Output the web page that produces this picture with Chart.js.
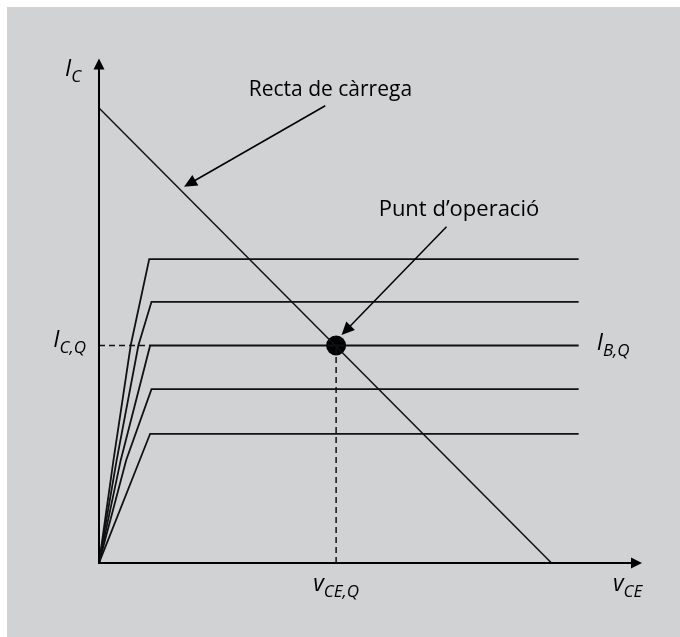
<!DOCTYPE html>
<html>
<head>
<meta charset="utf-8">
<script src="https://cdn.jsdelivr.net/npm/chart.js@4.4.1/dist/chart.umd.min.js"></script>
<style>
  html, body { margin: 0; padding: 0; background: #ffffff; }
  #wrap { width: 680px; height: 637px; position: relative; }
</style>
</head>
<body>
<div id="wrap"><canvas id="bjtChart"></canvas></div>
<script>
// Eixos (V, mA)
const vceMax = 12;
const icMax = 11;

// Recta de càrrega: talls amb els eixos
const loadLineX = [0, 10];
const loadLineY = [10, 0];

// Corbes de sortida (IB constant): colze i nivell
const curveLevels = [6.68, 5.74, 4.78, 3.82, 2.84];
const curveKneeX = [1.11, 1.16, 1.13, 1.16, 1.13];
const curveEndX = 10.6;
// punts intermedis de la zona de saturació (x, y)
const curveBendX = [[0.32, 0.70], [0.39, 0.87], [0.48], [0.60], []];
const curveBendY = [[2.26, 4.78], [2.26, 4.78], [2.26], [2.26], []];

// Punt d'operació
const qPoint = { x: 5.24, y: 4.78 };
const qLevelIndex = 2;

// Etiquetes de text
const labelLoad = 'Recta de càrrega';
const labelQ = 'Punt d’operació';
const arrowLoad = { from: [5.0, 10.05], to: [1.88, 8.27], text: [3.31, 10.26] };
const arrowQ = { from: [7.68, 7.39], to: [5.36, 5.01], text: [6.18, 7.63] };

const FONT = '"Open Sans", "DejaVu Sans", sans-serif';

function curveData(i) {
    const pts = [{ x: 0, y: 0 }];
    curveBendX[i].forEach((x, k) => pts.push({ x: x, y: curveBendY[i][k] }));
    pts.push({ x: curveKneeX[i], y: curveLevels[i] });
    pts.push({ x: curveEndX, y: curveLevels[i] });
    return pts;
}

const datasets = [];
curveLevels.forEach((lv, i) => {
    datasets.push({
        data: curveData(i),
        showLine: true,
        borderColor: '#111111',
        borderWidth: 1.8,
        pointRadius: 0
    });
});
datasets.push({
    data: loadLineX.map((x, i) => ({ x: x, y: loadLineY[i] })),
    showLine: true,
    borderColor: '#111111',
    borderWidth: 1.5,
    pointRadius: 0
});
// línies discontínues fins als eixos
datasets.push({
    data: [{ x: 0, y: qPoint.y }, { x: curveKneeX[qLevelIndex], y: qPoint.y }],
    showLine: true,
    borderColor: '#111111',
    borderWidth: 1.5,
    borderDash: [6, 4],
    pointRadius: 0
});
datasets.push({
    data: [{ x: qPoint.x, y: 0 }, { x: qPoint.x, y: qPoint.y }],
    showLine: true,
    borderColor: '#111111',
    borderWidth: 1.5,
    borderDash: [6, 4],
    pointRadius: 0
});
datasets.push({
    data: [qPoint],
    showLine: false,
    pointRadius: 10,
    pointBackgroundColor: '#000000',
    pointBorderWidth: 0
});

function arrowHead(ctx, x1, y1, x2, y2, len, half) {
    const a = Math.atan2(y2 - y1, x2 - x1);
    ctx.beginPath();
    ctx.moveTo(x2, y2);
    ctx.lineTo(x2 - len * Math.cos(a) + half * Math.sin(a), y2 - len * Math.sin(a) - half * Math.cos(a));
    ctx.lineTo(x2 - len * Math.cos(a) - half * Math.sin(a), y2 - len * Math.sin(a) + half * Math.cos(a));
    ctx.closePath();
    ctx.fill();
}

// text principal + subíndex, en cursiva
function subText(ctx, main, sub, x, y, align) {
    const fMain = 'italic 23px ' + FONT;
    const fSub = 'italic 17px ' + FONT;
    ctx.font = fMain;
    const wMain = ctx.measureText(main).width;
    ctx.font = fSub;
    const wSub = ctx.measureText(sub).width;
    let x0 = x;
    if (align === 'right') x0 = x - wMain - wSub;
    if (align === 'center') x0 = x - (wMain + wSub) / 2;
    ctx.textAlign = 'left';
    ctx.textBaseline = 'alphabetic';
    ctx.font = fMain;
    ctx.fillText(main, x0, y);
    ctx.font = fSub;
    ctx.fillText(sub, x0 + wMain, y + 6);
}

const annotations = {
    id: 'annotations',
    beforeDraw(chart) {
        const ctx = chart.ctx;
        ctx.save();
        ctx.fillStyle = '#ffffff';
        ctx.fillRect(0, 0, chart.width, chart.height);
        ctx.fillStyle = '#d1d2d4';
        ctx.fillRect(7, 7, chart.width - 7, chart.height - 7);
        ctx.restore();
    },
    afterDatasetsDraw(chart) {
        const ctx = chart.ctx;
        const sx = chart.scales.x, sy = chart.scales.y;
        const px = v => sx.getPixelForValue(v);
        const py = v => sy.getPixelForValue(v);
        const ox = px(0), oy = py(0);
        const tipX = px(vceMax), tipY = py(icMax) - 4;

        ctx.save();
        ctx.strokeStyle = '#000000';
        ctx.fillStyle = '#000000';
        ctx.lineWidth = 2;
        // eixos
        ctx.beginPath();
        ctx.moveTo(ox, tipY + 6);
        ctx.lineTo(ox, oy);
        ctx.lineTo(tipX - 6, oy);
        ctx.stroke();
        arrowHead(ctx, ox, oy, ox, tipY, 11, 5.5);
        arrowHead(ctx, ox, oy, tipX, oy, 11, 5.5);

        // fletxes d'etiqueta
        ctx.lineWidth = 1.5;
        [arrowLoad, arrowQ].forEach(a => {
            const x1 = px(a.from[0]), y1 = py(a.from[1]);
            const x2 = px(a.to[0]), y2 = py(a.to[1]);
            const ang = Math.atan2(y2 - y1, x2 - x1);
            ctx.beginPath();
            ctx.moveTo(x1, y1);
            ctx.lineTo(x2 - 8 * Math.cos(ang), y2 - 8 * Math.sin(ang));
            ctx.stroke();
            arrowHead(ctx, x1, y1, x2, y2, 13, 6);
        });

        ctx.textAlign = 'left';
        ctx.textBaseline = 'alphabetic';
        ctx.fillStyle = '#000000';
        ctx.font = '21px ' + FONT;
        ctx.fillText(labelLoad, px(arrowLoad.text[0]), py(arrowLoad.text[1]));
        ctx.font = '22px ' + FONT;
        ctx.fillText(labelQ, px(arrowQ.text[0]), py(arrowQ.text[1]));

        // etiquetes dels eixos
        subText(ctx, 'I', 'C', ox - 34, tipY + 17, 'left');
        subText(ctx, 'I', 'C,Q', ox - 13, py(qPoint.y) + 1, 'right');
        subText(ctx, 'I', 'B,Q', px(curveEndX) + 18, py(qPoint.y) + 4, 'left');
        subText(ctx, 'v', 'CE,Q', px(qPoint.x), oy + 28, 'center');
        subText(ctx, 'v', 'CE', tipX - 29, oy + 28, 'left');
        ctx.restore();
    }
};

new Chart(document.getElementById('bjtChart'), {
    type: 'scatter',
    data: { datasets: datasets },
    options: {
        responsive: true,
        maintainAspectRatio: false,
        animation: false,
        layout: { padding: { left: 99, right: 680 - 642, top: 62.5, bottom: 637 - 563 } },
        plugins: { legend: { display: false }, tooltip: { enabled: false } },
        elements: { line: { borderCapStyle: 'butt', tension: 0 } },
        scales: {
            x: { type: 'linear', display: false, min: 0, max: vceMax },
            y: { type: 'linear', display: false, min: 0, max: icMax }
        }
    },
    plugins: [annotations]
});
</script>
</body>
</html>
